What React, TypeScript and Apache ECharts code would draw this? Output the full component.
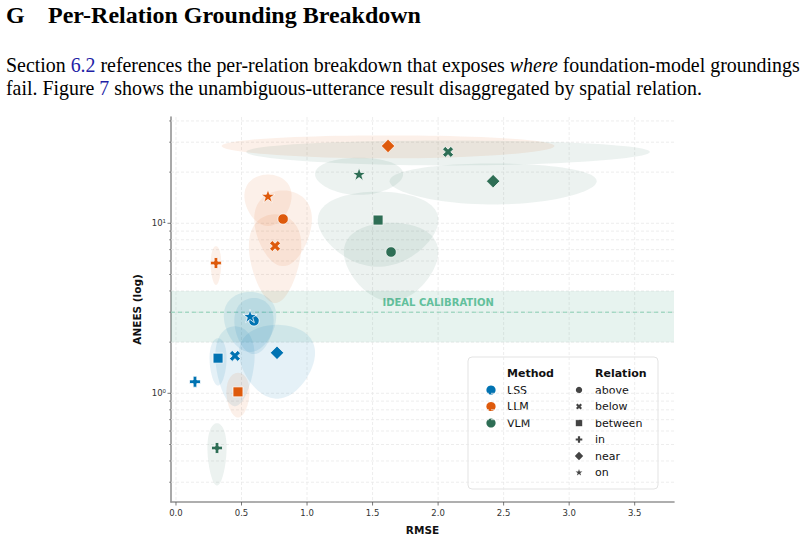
import React, { useEffect, useRef } from "react";
import * as echarts from "echarts";

// ---- data -------------------------------------------------------------
const methods = ["LSS", "LLM", "VLM"];
const relations = ["above", "below", "between", "in", "near", "on"];

// mean RMSE / ANEES per relation (same order as `relations`)
const lssRmse = [0.595, 0.45, 0.321, 0.145, 0.771, 0.565];
const lssAnees = [2.67, 1.66, 1.61, 1.17, 1.73, 2.85];
const llmRmse = [0.817, 0.756, 0.473, 0.305, 1.618, 0.702];
const llmAnees = [10.6, 7.35, 1.02, 5.84, 28.5, 14.5];
const vlmRmse = [1.641, 2.076, 1.542, 0.313, 2.42, 1.397];
const vlmAnees = [6.78, 26.3, 10.45, 0.477, 17.7, 19.5];

// spread (half-width of the shaded region) per relation
const lssRmseSpread = [0.15, 0.15, 0.065, 0, 0.29, 0.2];
const lssAneesSpread = [0.97, 0.82, 0.5, 0, 0.8, 1.1];
const llmRmseSpread = [0.22, 0.2, 0.088, 0.04, 1.27, 0.18];
const llmAneesSpread = [5.0, 3.95, 0.3, 1.5, 4.4, 4.85];
const vlmRmseSpread = [0.36, 1.54, 0.46, 0.073, 0.79, 0.336];
const vlmAneesSpread = [3.3, 4.4, 4.9, 0.19, 4.8, 4.8];

const xTicks = [0, 0.5, 1, 1.5, 2, 2.5, 3, 3.5];
const xTickLabels = ["0.0", "0.5", "1.0", "1.5", "2.0", "2.5", "3.0", "3.5"];
const yMajorTicks = [1, 10];
const yMajorLabels = ["10\u2070", "10\u00b9"];
const yMinorTicks = [0.3, 0.4, 0.5, 0.6, 0.7, 0.8, 0.9, 2, 3, 4, 5, 6, 7, 8, 9, 20, 30, 40];
const idealBand = [2, 4];
const idealAnees = 3;

// ---- styling ----------------------------------------------------------
const xMin = -0.038;
const xMax = 3.8;
const yMin = 0.2295;
const yMax = 42.2;

const methodColors = ["#0173b2", "#de5a0c", "#2e6e55"];
const blobFills = ["rgba(1,115,178,0.10)", "rgba(222,90,12,0.09)", "rgba(46,110,85,0.09)"];
const FONT = '"DejaVu Sans", sans-serif';
const SERIF = '"Liberation Serif", "Times New Roman", serif';

type Pt = [number, number];
const plusPts: Pt[] = [
  [-1 / 3, -1], [1 / 3, -1], [1 / 3, -1 / 3], [1, -1 / 3], [1, 1 / 3], [1 / 3, 1 / 3],
  [1 / 3, 1], [-1 / 3, 1], [-1 / 3, 1 / 3], [-1, 1 / 3], [-1, -1 / 3], [-1 / 3, -1 / 3],
];
const crossPts: Pt[] = [
  [-1, -0.5], [-0.5, -1], [0, -0.5], [0.5, -1], [1, -0.5], [0.5, 0],
  [1, 0.5], [0.5, 1], [0, 0.5], [-0.5, 1], [-1, 0.5], [-0.5, 0],
];
const starPts: Pt[] = [
  [0, -1], [0.2245, -0.309], [0.951, -0.309], [0.363, 0.118], [0.588, 0.809],
  [0, 0.382], [-0.588, 0.809], [-0.363, 0.118], [-0.951, -0.309], [-0.2245, -0.309],
];
const diamondPts: Pt[] = [[0, -1], [1, 0], [0, 1], [-1, 0]];
const squarePts: Pt[] = [[-1, -1], [1, -1], [1, 1], [-1, 1]];

const toPath = (pts: Pt[]) => "path://M" + pts.map((p) => p.join(",")).join(" L") + " Z";

// marker per relation
const relSymbols = ["circle", toPath(crossPts), "rect", toPath(plusPts), "diamond", toPath(starPts)];
const relSizes = [10.5, 11, 10, 11, 13.5, 14];

const seriesData = [
  { rmse: lssRmse, anees: lssAnees, sx: lssRmseSpread, sy: lssAneesSpread },
  { rmse: llmRmse, anees: llmAnees, sx: llmRmseSpread, sy: llmAneesSpread },
  { rmse: vlmRmse, anees: vlmAnees, sx: vlmRmseSpread, sy: vlmAneesSpread },
];

const scalePts = (pts: Pt[], cx: number, cy: number, r: number) =>
  pts.map(([a, b]) => [cx + a * r, cy + b * r]);

function buildOption() {
  const blobRows: number[][] = [];
  seriesData.forEach((s, m) => {
    relations.forEach((_r, i) => {
      if (s.sx[i] > 0 && s.sy[i] > 0) blobRows.push([s.rmse[i], s.anees[i], s.sx[i], s.sy[i], m]);
    });
  });

  const frame = {
    type: "custom",
    coordinateSystem: "cartesian2d",
    silent: true,
    clip: false,
    data: [[0, 1]],
    renderItem: (_p: any, api: any) => {
      const children: any[] = [];
      const [left, bottom] = api.coord([xMin, yMin]);
      const [right, top] = api.coord([xMax, yMax]);
      const grid = { stroke: "#e9e9e9", lineWidth: 0.8, lineDash: [3, 2] };
      const tick = { stroke: "#555", lineWidth: 0.8 };
      xTicks.forEach((v, i) => {
        const x = api.coord([v, yMin])[0];
        children.push({ type: "line", shape: { x1: x, y1: top, x2: x, y2: bottom }, style: grid });
        children.push({ type: "line", shape: { x1: x, y1: bottom, x2: x, y2: bottom + 3.5 }, style: tick });
        children.push({
          type: "text", x, y: bottom + 6,
          style: { text: xTickLabels[i], align: "center", verticalAlign: "top", font: `8.5px ${FONT}`, fill: "#333" },
        });
      });
      yMinorTicks.forEach((v) => {
        const y = api.coord([xMin, v])[1];
        children.push({ type: "line", shape: { x1: left, y1: y, x2: right, y2: y }, style: grid });
        children.push({ type: "line", shape: { x1: left - 2, y1: y, x2: left, y2: y }, style: { stroke: "#555", lineWidth: 0.6 } });
      });
      yMajorTicks.forEach((v, i) => {
        const y = api.coord([xMin, v])[1];
        children.push({ type: "line", shape: { x1: left, y1: y, x2: right, y2: y }, style: grid });
        children.push({ type: "line", shape: { x1: left - 3.5, y1: y, x2: left, y2: y }, style: tick });
        children.push({
          type: "text", x: left - 5, y,
          style: { text: yMajorLabels[i], align: "right", verticalAlign: "middle", font: `8.5px ${FONT}`, fill: "#333" },
        });
      });
      return { type: "group", children };
    },
  };

  const band = {
    type: "custom",
    coordinateSystem: "cartesian2d",
    silent: true,
    data: [[idealAnees, idealBand[0], idealBand[1]]],
    renderItem: (_p: any, api: any) => {
      const [x0, yTop] = api.coord([xMin, api.value(2)]);
      const [x1, yBot] = api.coord([xMax, api.value(1)]);
      const yMid = api.coord([xMin, api.value(0)])[1];
      const labelPos = api.coord([2.0, 3.4]);
      return {
        type: "group",
        children: [
          { type: "rect", shape: { x: x0, y: yTop, width: x1 - x0, height: yBot - yTop }, style: { fill: "rgba(60,160,120,0.12)" } },
          { type: "line", shape: { x1: x0, y1: yMid, x2: x1, y2: yMid }, style: { stroke: "#8dd0b6", lineWidth: 1, lineDash: [4, 3] } },
          {
            type: "text", x: labelPos[0], y: labelPos[1],
            style: { text: "IDEAL CALIBRATION", align: "center", verticalAlign: "middle", font: `bold 10px ${FONT}`, fill: "#62c09c" },
          },
        ],
      };
    },
  };

  const blobs = {
    type: "custom",
    coordinateSystem: "cartesian2d",
    silent: true,
    data: blobRows,
    renderItem: (_p: any, api: any) => {
      const cx = api.value(0), cy = api.value(1), rx = api.value(2), ry = api.value(3), m = api.value(4);
      const pts: number[][] = [];
      const n = 90;
      for (let k = 0; k < n; k++) {
        const t = (k / n) * Math.PI * 2;
        const y = Math.max(cy + ry * Math.sin(t), 1e-3);
        pts.push(api.coord([cx + rx * Math.cos(t), y]));
      }
      return { type: "polygon", shape: { points: pts }, style: { fill: blobFills[m] } };
    },
  };

  const scatters = seriesData.map((s, m) => ({
    type: "scatter",
    name: methods[m],
    symbolKeepAspect: true,
    itemStyle: { color: methodColors[m], borderColor: "#fff", borderWidth: 0.8, opacity: 1 },
    data: relations.map((_r, i) => ({
      value: [s.rmse[i], s.anees[i]],
      symbol: relSymbols[i],
      symbolSize: relSizes[i],
    })),
  }));

  // legend (two titled columns)
  const legend: any[] = [];
  legend.push({
    type: "rect", shape: { x: 468, y: 357, width: 190, height: 132, r: 4 },
    style: { fill: "rgba(255,255,255,0.85)", stroke: "#dcdcdc", lineWidth: 0.8 },
  });
  const lgText = (text: string, x: number, y: number, bold = false) => ({
    type: "text", x, y,
    style: { text, align: "left", verticalAlign: "middle", font: `${bold ? "bold " : ""}11px ${FONT}`, fill: "#111" },
  });
  legend.push(lgText("Method", 507, 373, true));
  legend.push(lgText("Relation", 595, 373, true));
  const rowY = [390, 406.5, 423, 439.5, 456, 472.5];
  methods.forEach((name, m) => {
    legend.push({ type: "circle", shape: { cx: 491, cy: rowY[m], r: 4.6 }, style: { fill: methodColors[m] } });
    legend.push(lgText(name, 507, rowY[m]));
  });
  const legendShapes: (Pt[] | null)[] = [null, crossPts, squarePts, plusPts, diamondPts, starPts];
  const legendR = [3.2, 3, 3.2, 3.3, 4.2, 3.6];
  relations.forEach((name, i) => {
    const y = rowY[i];
    const pts = legendShapes[i];
    if (pts) {
      legend.push({ type: "polygon", shape: { points: scalePts(pts, 579, y, legendR[i]) }, style: { fill: "#444" } });
    } else {
      legend.push({ type: "circle", shape: { cx: 579, cy: y, r: legendR[i] }, style: { fill: "#444" } });
    }
    legend.push(lgText(name, 595, y));
  });

  const page: any[] = [
    { type: "text", x: 6, y: 27, style: { text: "G", font: `bold 24px ${SERIF}`, fill: "#000", verticalAlign: "bottom" } },
    {
      type: "text", x: 48, y: 27,
      style: { text: "Per-Relation Grounding Breakdown", font: `bold 24px ${SERIF}`, fill: "#000", verticalAlign: "bottom" },
    },
    {
      type: "text", x: 6, y: 75,
      style: {
        text: "Section {ref|6.2} references the per-relation breakdown that exposes {em|where} foundation-model groundings",
        font: `19.9px ${SERIF}`, fill: "#000", verticalAlign: "bottom",
        rich: {
          ref: { fill: "#1f1fa6", fontFamily: SERIF, fontSize: 19.9 },
          em: { fontStyle: "italic", fontFamily: SERIF, fontSize: 19.9, fill: "#000" },
        },
      },
    },
    {
      type: "text", x: 6, y: 98,
      style: {
        text: "fail. Figure {ref|7} shows the unambiguous-utterance result disaggregated by spatial relation.",
        font: `19.9px ${SERIF}`, fill: "#000", verticalAlign: "bottom",
        rich: { ref: { fill: "#1f1fa6", fontFamily: SERIF, fontSize: 19.9 } },
      },
    },
    {
      type: "text", x: 137, y: 309.5, rotation: Math.PI / 2,
      style: { text: "ANEES (log)", align: "center", verticalAlign: "middle", font: `bold 10.5px ${FONT}`, fill: "#111" },
    },
    {
      type: "text", x: 422.5, y: 530,
      style: { text: "RMSE", align: "center", verticalAlign: "middle", font: `bold 10.5px ${FONT}`, fill: "#111" },
    },
  ];

  return {
    animation: false,
    grid: { left: 171, top: 117, width: 503, height: 385, containLabel: false },
    xAxis: {
      type: "value", min: xMin, max: xMax,
      axisLine: { show: true, onZero: false, lineStyle: { color: "#949494", width: 1.6 } },
      axisTick: { show: false }, axisLabel: { show: false }, splitLine: { show: false },
    },
    yAxis: {
      type: "log", logBase: 10, min: yMin, max: yMax,
      axisLine: { show: true, onZero: false, lineStyle: { color: "#949494", width: 1.6 } },
      axisTick: { show: false }, axisLabel: { show: false }, splitLine: { show: false }, minorTick: { show: false },
    },
    graphic: [...page, ...legend],
    series: [frame, band, blobs, ...scatters],
  };
}

export default function App() {
  const ref = useRef<HTMLDivElement>(null);
  useEffect(() => {
    if (!ref.current) return;
    const chart = echarts.init(ref.current, undefined, { renderer: "svg" });
    chart.setOption(buildOption() as any);
    return () => chart.dispose();
  }, []);
  return (
    <div
      ref={ref}
      style={{ position: "absolute", left: 0, top: 0, width: 804, height: 541, background: "#fff" }}
    />
  );
}
